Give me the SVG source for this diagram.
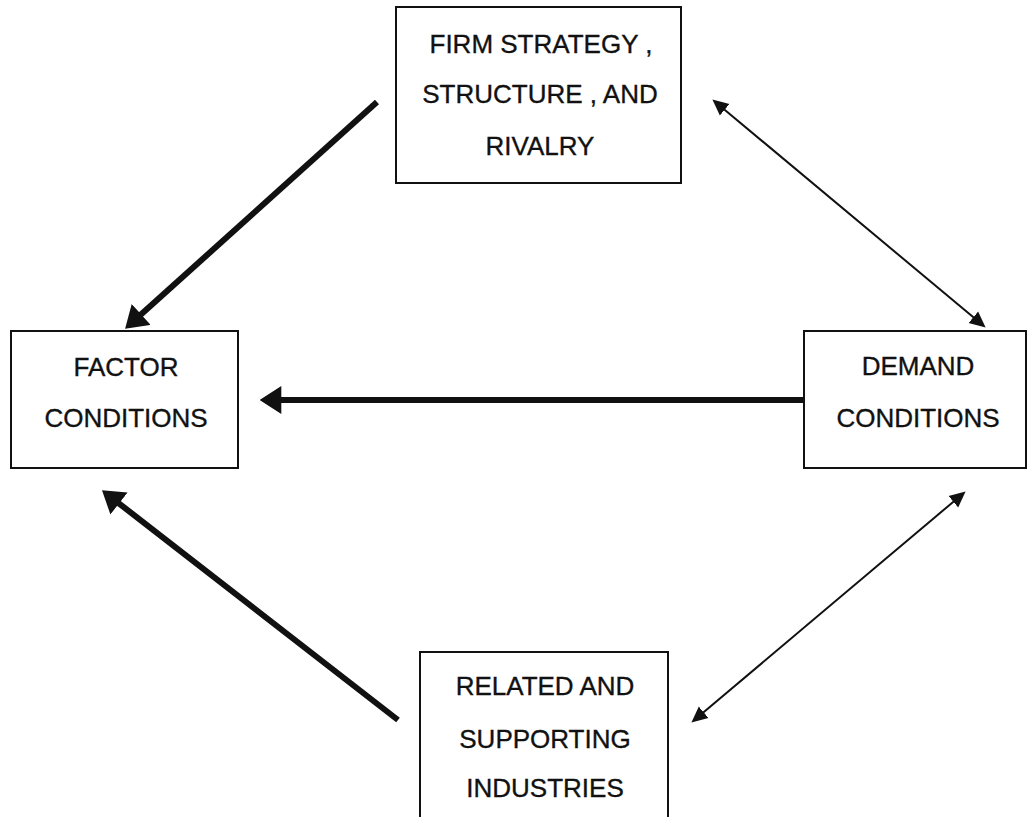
<svg xmlns="http://www.w3.org/2000/svg" width="1027" height="817" viewBox="0 0 1027 817">
<style>
.box{fill:#fff;stroke:#111;stroke-width:2}
.lbl{font-family:"Liberation Sans",Arial,sans-serif;font-size:26px;fill:#111;stroke:#111;stroke-width:0.35;text-anchor:middle}
.thick{stroke:#111;stroke-width:6;fill:none}
.thin{stroke:#111;stroke-width:2;fill:none}
</style>
<defs>
<marker id="headThick" markerUnits="userSpaceOnUse" markerWidth="22" markerHeight="28" viewBox="0 -13 20 26" refX="4" refY="0" orient="auto-start-reverse">
<path d="M0,-13 L20,0 L0,13 z" fill="#111"/>
</marker>
<marker id="headThin" markerUnits="userSpaceOnUse" markerWidth="16" markerHeight="16" viewBox="0 -7 15 14" refX="3" refY="0" orient="auto-start-reverse">
<path d="M0,-7 L15,0 L0,7 z" fill="#111"/>
</marker>
</defs>
<rect width="1027" height="817" fill="#fff"/>
<g id="connectors">
<line class="thick" x1="377" y1="102" x2="137.9" y2="317.3" marker-end="url(#headThick)"/>
<line class="thick" x1="804" y1="400" x2="277" y2="400" marker-end="url(#headThick)"/>
<line class="thick" x1="398" y1="720" x2="115.6" y2="500.8" marker-end="url(#headThick)"/>
<line class="thin" x1="722.2" y1="107.7" x2="975.8" y2="319.3" marker-start="url(#headThin)" marker-end="url(#headThin)"/>
<line class="thin" x1="955.8" y1="499.7" x2="701.2" y2="714.3" marker-start="url(#headThin)" marker-end="url(#headThin)"/>
</g>
<g id="firm">
<rect class="box" x="396" y="7" width="285" height="176"/>
<text class="lbl" x="541" y="53">FIRM STRATEGY ,</text>
<text class="lbl" x="540" y="103">STRUCTURE , AND</text>
<text class="lbl" x="540" y="155">RIVALRY</text>
</g>
<g id="factor">
<rect class="box" x="11" y="331" width="227" height="137"/>
<text class="lbl" x="126" y="376">FACTOR</text>
<text class="lbl" x="126" y="427">CONDITIONS</text>
</g>
<g id="demand">
<rect class="box" x="804" y="331" width="222" height="137"/>
<text class="lbl" x="918" y="375">DEMAND</text>
<text class="lbl" x="918" y="427">CONDITIONS</text>
</g>
<g id="related">
<rect class="box" x="420" y="652" width="248" height="180"/>
<text class="lbl" x="545" y="695">RELATED AND</text>
<text class="lbl" x="545" y="748">SUPPORTING</text>
<text class="lbl" x="545" y="797">INDUSTRIES</text>
</g>
</svg>
